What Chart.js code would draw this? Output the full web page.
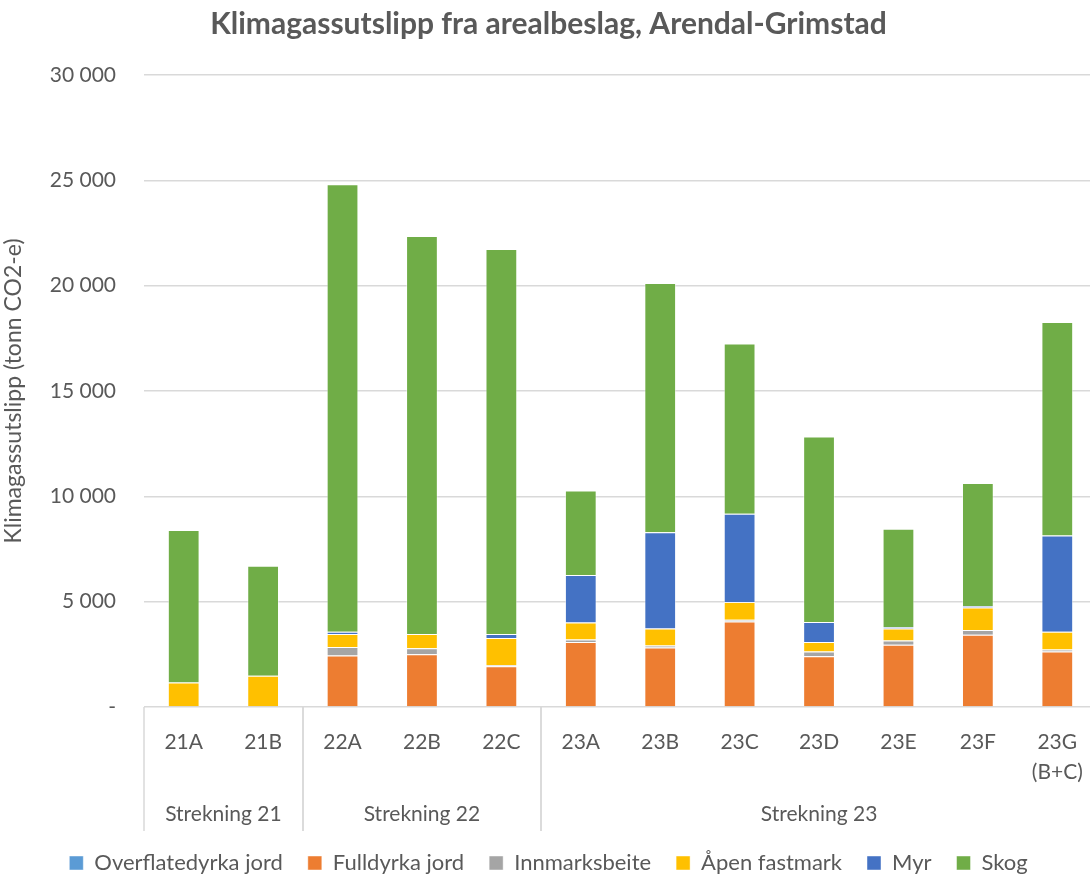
<!DOCTYPE html>
<html>
<head>
<meta charset="utf-8">
<script src="https://cdn.jsdelivr.net/npm/chart.js@4/dist/chart.umd.min.js"></script>
<style>
  html, body { margin: 0; padding: 0; background: #fff; overflow: hidden; }
  #wrap { width: 1100px; height: 877px; position: relative; }
</style>
</head>
<body>
<div id="wrap"><canvas id="chart"></canvas></div>
<script>
// ---------------------------------------------------------------------------
//  Data (tonn CO2-e)
// ---------------------------------------------------------------------------
const categories = ['21A', '21B', '22A', '22B', '22C', '23A', '23B', '23C', '23D', '23E', '23F', ['23G', '(B+C)']];
const groupNames = ['Strekning 21', 'Strekning 22', 'Strekning 23'];
const groupSizes = [2, 3, 7];

const overflatedyrka = [0, 0, 0, 0, 0, 30, 0, 0, 0, 0, 0, 40];
const fulldyrka      = [0, 0, 2450, 2500, 1930, 3060, 2820, 4060, 2410, 2950, 3430, 2590];
const innmarksbeite  = [0, 0, 400, 290, 50, 110, 95, 80, 220, 210, 230, 100];
const apenFastmark   = [1160, 1480, 620, 680, 1290, 810, 810, 850, 450, 565, 1060, 840];
const myr            = [0, 0, 100, 0, 200, 2250, 4565, 4185, 950, 65, 80, 4575];
const skog           = [7240, 5225, 21240, 18890, 18275, 4015, 11840, 8085, 8810, 4675, 5835, 10130];

const yTicks = [0, 5000, 10000, 15000, 20000, 25000, 30000];

const FONT = 'Lato, "Open Sans", sans-serif';
const TXT = '#595959';
const GRID = '#d9d9d9';

// group labels + separators under the category axis
const groupAxisPlugin = {
  id: 'groupAxis',
  afterDraw(chart) {
    const x = chart.scales.x;
    const ctx = chart.ctx;
    const bottom = chart.chartArea.bottom;
    const half = (x.getPixelForValue(1) - x.getPixelForValue(0)) / 2;
    ctx.save();
    ctx.strokeStyle = GRID;
    ctx.lineWidth = 1.5;
    ctx.fillStyle = TXT;
    ctx.font = '21px ' + FONT;
    ctx.textAlign = 'center';
    ctx.textBaseline = 'middle';
    let start = 0;
    groupSizes.forEach((n, i) => {
      const l = x.getPixelForValue(start) - half;
      const r = x.getPixelForValue(start + n - 1) + half;
      [l, r].forEach(px => {
        ctx.beginPath();
        ctx.moveTo(Math.round(px), bottom);
        ctx.lineTo(Math.round(px), bottom + 124);
        ctx.stroke();
      });
      ctx.fillText(groupNames[i], (l + r) / 2, bottom + 107);
      start += n;
    });
    ctx.restore();
  }
};

const series = [
  { label: 'Overflatedyrka jord', data: overflatedyrka, color: '#5B9BD5' },
  { label: 'Fulldyrka jord',      data: fulldyrka,      color: '#ED7D31' },
  { label: 'Innmarksbeite',       data: innmarksbeite,  color: '#A5A5A5' },
  { label: 'Åpen fastmark',       data: apenFastmark,   color: '#FFC000' },
  { label: 'Myr',                 data: myr,            color: '#4472C4' },
  { label: 'Skog',                data: skog,           color: '#70AD47' },
];

new Chart(document.getElementById('chart'), {
  type: 'bar',
  data: {
    labels: categories,
    datasets: series.map(s => ({
      label: s.label,
      data: s.data,
      backgroundColor: s.color,
      borderColor: 'rgba(255,255,255,0.45)',
      borderWidth: 1,
      categoryPercentage: 1,
      barPercentage: 0.4,
    })),
  },
  options: {
    responsive: true,
    maintainAspectRatio: false,
    animation: false,
    layout: { padding: { left: 0, right: 3, top: 0, bottom: -7 } },
    plugins: {
      title: {
        display: true,
        text: 'Klimagassutslipp fra arealbeslag, Arendal-Grimstad',
        color: TXT,
        font: { family: FONT, size: 30, weight: 'bold' },
        padding: { top: 6, bottom: 33 },
      },
      legend: {
        position: 'bottom',
        labels: {
          color: TXT,
          font: { family: FONT, size: 22 },
          boxWidth: 14,
          boxHeight: 14,
          padding: 25,
        },
      },
      tooltip: { enabled: false },
    },
    scales: {
      x: {
        stacked: true,
        grid: { display: false },
        border: { display: false },
        ticks: { color: TXT, font: { family: FONT, size: 21, lineHeight: 1.45 }, padding: 12, maxRotation: 0, autoSkip: false },
        afterFit(s) { s.height = 120; },
      },
      y: {
        stacked: true,
        min: 0,
        max: 30000,
        afterBuildTicks(s) { s.ticks = yTicks.map(v => ({ value: v })); },
        grid: { color: GRID, lineWidth: 1.5, drawTicks: false },
        border: { display: false },
        ticks: {
          color: TXT,
          font: { family: FONT, size: 21 },
          padding: 28,
          callback: v => v === 0 ? '-' : v.toLocaleString('en-US').replace(/,/g, ' '),
        },
        title: {
          display: true,
          text: 'Klimagassutslipp (tonn CO2-e)',
          color: TXT,
          font: { family: FONT, size: 23 },
          padding: { top: 0, bottom: 6 },
        },
        afterFit(s) { s.width = 144; },
      },
    },
  },
  plugins: [groupAxisPlugin],
});
</script>
</body>
</html>
